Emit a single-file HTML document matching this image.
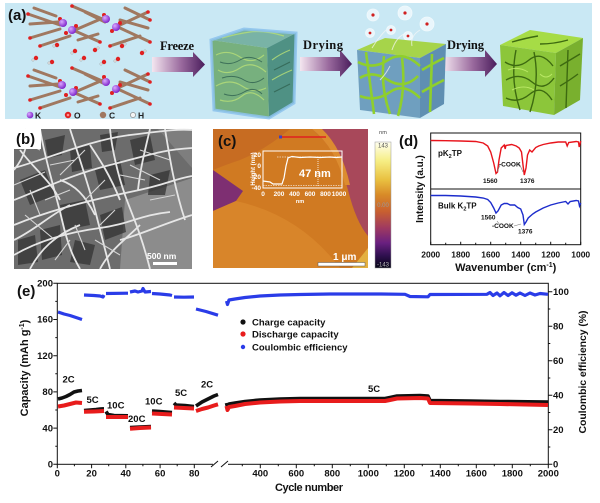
<!DOCTYPE html>
<html><head><meta charset="utf-8"><style>
html,body{margin:0;padding:0;background:#fff;}
svg{display:block;}
text{font-family:"Liberation Sans",Arial,sans-serif;font-weight:bold;}
</style></head><body>
<svg width="600" height="503" viewBox="0 0 600 503" xmlns="http://www.w3.org/2000/svg">
<defs>
<linearGradient id="arr" x1="0" x2="1" y1="0" y2="0">
<stop offset="0" stop-color="#f4e6f0"/><stop offset="0.55" stop-color="#9a6a9e"/><stop offset="1" stop-color="#4a1d5c"/>
</linearGradient>
<linearGradient id="cbar" x1="0" x2="0" y1="0" y2="1">
<stop offset="0" stop-color="#fffff0"/><stop offset="0.15" stop-color="#f6ee84"/><stop offset="0.3" stop-color="#e9c040"/><stop offset="0.42" stop-color="#d88a28"/><stop offset="0.55" stop-color="#c86030"/><stop offset="0.68" stop-color="#a03a60"/><stop offset="0.8" stop-color="#6a2080"/><stop offset="0.9" stop-color="#301050"/><stop offset="1" stop-color="#050515"/>
</linearGradient>
<radialGradient id="kball" cx="0.35" cy="0.35" r="0.7"><stop offset="0" stop-color="#d9a8ff"/><stop offset="1" stop-color="#7a1fc8"/></radialGradient>
</defs>

<!-- ===== Panel (a) ===== -->
<rect x="5" y="3" width="587" height="116" fill="#c9e8f4"/>
<text x="8" y="20" font-size="15" fill="#111">(a)</text>
<g stroke="#a07860" stroke-width="3" stroke-linecap="round" fill="none">
<path d="M28,14 L60,25 M30,38 L60,29 M75,30 L103,18 M75,31 L100,42 M72,6 L100,18 M120,25 L148,12 M120,28 L150,42 M40,46 L70,36 M110,46 L140,36 M85,12 L105,22 M125,8 L150,20 M30,24 L58,22 M120,20 L148,28 M34,8 L56,16 M78,40 L98,34"/>
<path d="M28,76 L60,87 M30,100 L60,91 M75,92 L103,80 M75,93 L100,104 M72,68 L100,80 M120,87 L148,74 M120,90 L150,104 M40,108 L70,98 M110,108 L140,98 M85,74 L105,84 M125,70 L150,82 M30,86 L58,84 M120,82 L148,90 M34,70 L56,78 M78,102 L98,96"/>
</g>
<g fill="#e02020">
<circle cx="28" cy="14" r="1.8"/><circle cx="30" cy="38" r="1.8"/><circle cx="100" cy="42" r="1.8"/><circle cx="72" cy="6" r="1.8"/><circle cx="148" cy="12" r="1.8"/><circle cx="150" cy="42" r="1.8"/><circle cx="40" cy="46" r="1.8"/><circle cx="110" cy="46" r="1.8"/><circle cx="150" cy="20" r="1.8"/>
<circle cx="28" cy="76" r="1.8"/><circle cx="30" cy="100" r="1.8"/><circle cx="100" cy="104" r="1.8"/><circle cx="72" cy="68" r="1.8"/><circle cx="148" cy="74" r="1.8"/><circle cx="150" cy="104" r="1.8"/><circle cx="40" cy="108" r="1.8"/><circle cx="110" cy="108" r="1.8"/><circle cx="150" cy="82" r="1.8"/>
<circle cx="60" cy="19" r="2"/><circle cx="76" cy="26" r="2"/><circle cx="66" cy="33" r="2"/><circle cx="104" cy="15" r="2"/><circle cx="120" cy="23" r="2"/><circle cx="112" cy="31" r="2"/>
<circle cx="60" cy="81" r="2"/><circle cx="76" cy="88" r="2"/><circle cx="66" cy="95" r="2"/><circle cx="104" cy="77" r="2"/><circle cx="120" cy="85" r="2"/><circle cx="112" cy="93" r="2"/>
</g>
<g fill="url(#kball)">
<circle cx="63" cy="23" r="4"/><circle cx="72" cy="30" r="4"/><circle cx="106" cy="19" r="4"/><circle cx="116" cy="27" r="4"/>
<circle cx="62" cy="85" r="4"/><circle cx="73" cy="92" r="4"/><circle cx="106" cy="82" r="4"/><circle cx="116" cy="89" r="4"/>
</g>
<g>
<g fill="#e02020"><circle cx="57" cy="45" r="2.2"/><circle cx="75" cy="51" r="2.2"/><circle cx="36" cy="58" r="2.2"/><circle cx="52" cy="62" r="2.2"/><circle cx="84" cy="58" r="2.2"/><circle cx="104" cy="62" r="2.2"/><circle cx="122" cy="46" r="2.2"/><circle cx="142" cy="53" r="2.2"/><circle cx="118" cy="59" r="2.2"/><circle cx="95" cy="50" r="2.2"/></g>
<g fill="#eeeeee" stroke="#888" stroke-width="0.4"><circle cx="54" cy="46" r="1.2"/><circle cx="72" cy="53" r="1.2"/><circle cx="33" cy="60" r="1.2"/><circle cx="49" cy="63" r="1.2"/><circle cx="81" cy="60" r="1.2"/><circle cx="101" cy="64" r="1.2"/><circle cx="125" cy="44" r="1.2"/><circle cx="145" cy="51" r="1.2"/><circle cx="115" cy="61" r="1.2"/><circle cx="98" cy="48" r="1.2"/></g>
</g>
<circle cx="30" cy="115" r="3.3" fill="url(#kball)"/><text x="35" y="118.5" font-size="8.5" fill="#222">K</text>
<circle cx="68" cy="115" r="3.2" fill="#e02020"/><circle cx="68" cy="115" r="1.3" fill="#ff9090"/><text x="74" y="118.5" font-size="8.5" fill="#222">O</text>
<circle cx="103" cy="115" r="3.2" fill="#a07860"/><text x="109" y="118.5" font-size="8.5" fill="#222">C</text>
<circle cx="133" cy="115" r="2.6" fill="#f4f4f4" stroke="#777" stroke-width="0.6"/><text x="138" y="118.5" font-size="8.5" fill="#222">H</text>

<path d="M152,57 L193,57 L193,52 L205,64.5 L193,77 L193,72 L152,72 Z" fill="url(#arr)"/>
<path d="M300,57 L340,57 L340,50 L352,64 L340,77 L340,71 L300,71 Z" fill="url(#arr)"/>
<path d="M443,57 L485,57 L485,50 L497,64 L485,77 L485,71 L443,71 Z" fill="url(#arr)"/>
<text x="160" y="50" font-size="12.5" fill="#111" style="font-family:'Liberation Serif',serif" textLength="34">Freeze</text>
<text x="303" y="49" font-size="12.5" fill="#111" style="font-family:'Liberation Serif',serif" textLength="40">Drying</text>
<text x="447" y="49" font-size="12.5" fill="#111" style="font-family:'Liberation Serif',serif" textLength="37">Drying</text>

<g>
<polygon points="211,40 244,29 296,33 267,48" fill="#79b3a6"/>
<polygon points="211,40 267,48 269,118 214,110" fill="#77b07e"/>
<polygon points="267,48 296,33 294,103 269,118" fill="#4f9184"/>
<g stroke="#b3dc78" stroke-width="1.2" fill="none" opacity="0.85">
<path d="M216,55 q12,-6 24,2 t24,-2 M218,70 q10,6 22,-2 t26,4 M216,86 q14,-8 26,0 t24,2 M220,100 q12,4 22,-4 t22,4 M272,60 q8,-6 18,-10 M272,80 q10,-6 20,-10 M222,38 q14,-4 28,-6 t34,4"/>
</g>
<g stroke="#2f6150" stroke-width="1" fill="none" opacity="0.8">
<path d="M220,62 q10,4 20,-2 t22,2 M222,78 q12,-4 22,2 t20,-2 M224,94 q10,4 20,-2 t18,2 M274,70 q8,-4 16,-8 M274,92 q8,-4 16,-8"/>
</g>
<polygon points="211,40 244,29 296,33 294,103 269,118 214,110" fill="none" stroke="#8cc2ec" stroke-width="3" opacity="0.85"/>
</g>
<g>
<g fill="#f4fbff" stroke="#ffffff" stroke-width="0.8" opacity="0.75">
<circle cx="373" cy="15" r="6"/><circle cx="405" cy="13" r="7"/><circle cx="427" cy="24" r="7"/><circle cx="370" cy="33" r="4.5"/><circle cx="391" cy="30" r="4.5"/><circle cx="408" cy="36" r="4.5"/>
</g>
<g fill="#d02020"><circle cx="373" cy="15" r="1.6"/><circle cx="405" cy="13" r="1.6"/><circle cx="427" cy="24" r="1.6"/><circle cx="370" cy="33" r="1.4"/><circle cx="391" cy="30" r="1.4"/><circle cx="408" cy="36" r="1.4"/></g>
<polygon points="357,50 385,38 446,44 420,58" fill="#a6d44a"/>
<polygon points="357,50 420,58 420,118 360,110" fill="#6f9fbf"/>
<polygon points="420,58 446,44 444,104 420,118" fill="#5f8fb2"/>
<g stroke="#8fcf2c" stroke-width="2.6" fill="none">
<path d="M358,62 q15,8 30,-2 t32,6 M360,78 q12,-8 28,2 t30,-4 M360,96 q16,6 30,-4 t30,6 M366,52 l8,62 M384,56 q-4,30 6,58 M402,58 q4,30 -4,58 M422,70 q10,-6 22,-12 M422,92 q10,-6 22,-12 M432,54 l-2,58"/>
</g>
<g stroke="#f6f6f6" stroke-width="1" fill="none" opacity="0.7"><path d="M372,48 q6,-10 14,-18 M392,50 q4,-12 12,-16 M412,46 q-2,-10 8,-16 M380,80 q6,-6 10,-14"/></g>
</g>
<g>
<polygon points="500,45 530,30 583,38 556,53" fill="#a6dc46"/>
<polygon points="500,45 556,53 554,115 503,106" fill="#8cc63a"/>
<polygon points="556,53 583,38 580,100 554,115" fill="#79b02e"/>
<g stroke="#3d6a10" stroke-width="1.4" fill="none">
<path d="M505,62 q12,8 24,-2 t24,6 M506,80 q14,-8 26,2 t22,-4 M506,98 q12,6 24,-4 t22,6 M516,50 q-6,30 4,60 M534,52 q6,30 -4,60 M560,66 q10,-6 20,-12 M560,86 q10,-6 18,-12 M568,50 l-2,58 M512,42 q14,-4 26,-6 M540,44 q14,0 28,-4"/>
</g>
<g stroke="#c6f070" stroke-width="1" fill="none" opacity="0.8"><path d="M508,70 q10,-4 20,2 M512,90 q12,-6 22,0 M540,74 q6,6 12,0"/></g>
</g>

<!-- ===== Panel (b) SEM ===== -->
<g>
<rect x="14" y="129" width="178" height="140" fill="#6c6c6c"/>
<polygon points="125,200 192,178 192,269 120,269" fill="#8c8c8c"/>
<polygon points="158,129 192,129 192,168" fill="#7e7e7e"/>
<g fill="#333" opacity="0.75">
<polygon points="20,180 45,170 55,195 30,205"/><polygon points="60,205 85,200 90,225 65,230"/><polygon points="95,170 120,160 125,185 100,190"/><polygon points="40,230 60,225 62,255 42,260"/><polygon points="100,215 122,207 126,232 105,240"/><polygon points="130,140 150,135 155,160 135,165"/><polygon points="70,150 90,145 92,168 72,172"/><polygon points="150,175 170,170 165,195 148,195"/><polygon points="18,240 35,235 38,262 18,265"/><polygon points="75,240 95,245 90,265 70,262"/><polygon points="45,140 65,135 62,155 48,158"/><polygon points="100,135 118,132 115,150 102,152"/>
</g>
<g stroke="#e6e6e6" stroke-width="1.8" fill="none">
<path d="M14,168 C50,158 90,140 130,135 S180,129 192,130"/>
<path d="M14,200 C40,190 70,175 110,165 S160,150 192,148"/>
<path d="M14,225 C50,210 90,200 130,192 S170,180 192,176"/>
<path d="M14,255 C40,240 70,232 100,228 S140,215 170,212"/>
<path d="M40,129 C45,160 55,190 62,220 S75,260 80,269"/>
<path d="M70,129 C80,160 90,190 95,210 S105,250 110,269"/>
<path d="M110,129 C112,150 118,175 125,195 S140,230 150,269"/>
<path d="M150,129 C145,150 140,170 138,190"/>
<path d="M20,150 C35,170 50,180 60,200"/>
<path d="M90,145 C100,160 110,175 120,200"/>
<path d="M30,269 C40,250 55,235 80,225"/>
<path d="M120,240 C140,235 160,225 192,215"/>
<path d="M60,180 C75,185 85,195 95,215"/>
<path d="M165,129 C170,160 175,190 185,220"/>
<path d="M14,240 C35,230 50,215 70,205"/>
<path d="M100,269 C110,250 125,240 140,225"/>
<path d="M25,129 C30,145 22,160 14,170"/>
</g>
<g stroke="#d4d4d4" stroke-width="1.1" fill="none">
<path d="M14,185 L45,172 M25,215 L55,240 M85,150 L60,175 M95,240 L120,255 M130,165 L160,180 M150,200 L175,195 M55,260 L70,240 M105,180 L85,200 M140,150 L170,160 M20,140 L40,150 M30,190 L40,215 M75,225 L85,250 M115,210 L100,225 M45,200 L70,190 M120,175 L145,180 M50,165 L75,160"/>
</g>
<rect x="14" y="129" width="27" height="20" fill="#fff"/>
<text x="16" y="144" font-size="15" fill="#111">(b)</text>
<text x="147" y="259" font-size="8.5" fill="#fff">500 nm</text>
<rect x="153" y="262" width="24" height="3" fill="#fff"/>
</g>

<!-- ===== Panel (c) AFM ===== -->
<g>
<rect x="213" y="129" width="155" height="139" fill="#d07a22"/>
<path d="M213,129 L290,129 Q265,150 240,160 Q225,165 213,170 Z" fill="#c76c22"/>
<polygon points="213,170 243,191 236,201 213,211" fill="#7e2f72"/>
<path d="M213,211 L236,201 Q300,215 340,268 L213,268 Z" fill="#d8852a"/>
<path d="M312,129 Q338,150 348,190 Q356,222 368,236 L368,129 Z" fill="#a8485a"/>
<path d="M312,129 Q336,148 345,185 L350,185 Q342,148 322,129 Z" fill="#dc8c30"/>
<polygon points="352,268 368,248 368,268" fill="#e4b040"/>
<text x="218" y="146" font-size="15" fill="#111">(c)</text>
<line x1="282" y1="137" x2="326" y2="137" stroke="#e02020" stroke-width="1.5"/>
<rect x="279" y="135.5" width="3" height="3" fill="#4040c0"/>
<rect x="263" y="151" width="79" height="37" fill="none" stroke="#fff" stroke-width="1"/>
<line x1="277" y1="157" x2="342" y2="157" stroke="#f0e0d0" stroke-width="0.7" stroke-dasharray="1.5,1"/>
<line x1="263" y1="185.5" x2="342" y2="185.5" stroke="#f0e0d0" stroke-width="0.7" stroke-dasharray="1.5,1"/>
<line x1="318" y1="157" x2="318" y2="186" stroke="#fff" stroke-width="0.8" stroke-dasharray="1,1"/>
<polyline points="263,181 270,182 273,184 282,184 284,178 286,166 288,158 292,156.5 300,157.5 310,157 320,157.5 330,157 336,157.5 342,157" fill="none" stroke="#fff" stroke-width="1.2"/>
<g fill="#fff" font-size="6.5">
<text x="261" y="157" text-anchor="end">20</text><text x="261" y="168" text-anchor="end">0</text><text x="261" y="179" text-anchor="end">-20</text><text x="261" y="190" text-anchor="end">-40</text>
<text x="263" y="196" text-anchor="middle">0</text><text x="279" y="196" text-anchor="middle">200</text><text x="294.5" y="196" text-anchor="middle">400</text><text x="310" y="196" text-anchor="middle">600</text><text x="325.5" y="196" text-anchor="middle">800</text><text x="339" y="196" text-anchor="middle">1000</text>
<text x="300" y="203" text-anchor="middle" font-size="5.5">nm</text>
<text transform="translate(255,169) rotate(-90)" text-anchor="middle" font-size="6">Height (nm)</text>
</g>
<text x="299" y="177" font-size="11" fill="#fff">47 nm</text>
<text x="333" y="260" font-size="10" fill="#fff">1 μm</text>
<rect x="318" y="262.5" width="47" height="3.5" fill="#fff" stroke="#555" stroke-width="0.5"/>
<rect x="375" y="142" width="16" height="126" fill="url(#cbar)" stroke="#999" stroke-width="0.5"/>
<text x="383" y="134" font-size="5.5" fill="#444" text-anchor="middle" style="font-weight:normal">nm</text>
<text x="383" y="147.5" font-size="6" fill="#555" text-anchor="middle" style="font-weight:normal">143</text>
<text x="383" y="207" font-size="6" fill="#999" text-anchor="middle" style="font-weight:normal">0.00</text>
<text x="383" y="266.5" font-size="6" fill="#bbb" text-anchor="middle" style="font-weight:normal">-143</text>
</g>

<!-- ===== Panel (d) FTIR ===== -->
<g>
<text x="399" y="146" font-size="15" fill="#111">(d)</text>
<rect x="430.7" y="133" width="150" height="111.7" fill="none" stroke="#111" stroke-width="1"/>
<line x1="430.7" y1="189" x2="580.7" y2="189" stroke="#111" stroke-width="1"/>
<polyline fill="none" stroke="#e8141c" stroke-width="1.4" points="430.7,140.5 445.7,140.7 460.7,141 475.7,141.5 483.2,143 487.7,146 490.7,152 493.7,163 496,173.5 497.5,172 499,160 501.2,148 504.2,145 505.2,149 505.9,145.5 511.7,144.5 516.2,146 519.2,148 521.5,152 523,165 524.3,175 526,168 527.5,155 529.7,150 532,152 535.7,147.5 538.7,146 543.2,144.5 550.7,143 558.2,142 565.7,142 567.2,146 568.7,142.5 576.2,141.5 578.5,142 579.2,147 580,144 580.7,141"/>
<polyline fill="none" stroke="#1c2ccc" stroke-width="1.4" points="430.7,195.5 445.7,195.5 460.7,196 475.7,197 483.2,198 487.7,199.5 490.7,202.5 493.7,208 496,213 498,211 501.2,205 504.2,203.5 507.2,203.5 510.2,205 514.7,205 517.7,207.5 520.7,209 523,215 524.3,224.5 526,222 528.2,218 532.7,214 535.7,212 543.2,208 550.7,205 558.2,203 565.7,201.5 568,204 570.2,201.5 576.2,200.5 578.5,201 579.5,206 580.7,203"/>
<g stroke="#111" stroke-width="1">
<path d="M430.7,244.7v-3 M445.7,244.7v-2 M460.7,244.7v-3 M475.7,244.7v-2 M490.7,244.7v-3 M505.7,244.7v-2 M520.7,244.7v-3 M535.7,244.7v-2 M550.7,244.7v-3 M565.7,244.7v-2 M580.7,244.7v-3"/>
</g>
<g font-size="8.5" fill="#111" text-anchor="middle">
<text x="430.7" y="257.5">2000</text><text x="460.7" y="257.5">1800</text><text x="490.7" y="257.5">1600</text><text x="520.7" y="257.5">1400</text><text x="550.7" y="257.5">1200</text><text x="580.7" y="257.5">1000</text>
</g>
<text x="505.7" y="271" font-size="11" fill="#111" text-anchor="middle">Wavenumber (cm<tspan dy="-4" font-size="7">-1</tspan><tspan dy="4">)</tspan></text>
<text transform="translate(423,189) rotate(-90)" font-size="10" fill="#111" text-anchor="middle">Intensity (a.u.)</text>
<text x="438" y="156" font-size="8" fill="#111">pK<tspan dy="2" font-size="5.5">2</tspan><tspan dy="-2">TP</tspan></text>
<text x="438" y="208.5" font-size="8" fill="#111">Bulk K<tspan dy="2" font-size="5.5">2</tspan><tspan dy="-2">TP</tspan></text>
<g font-size="6.5" fill="#111">
<text x="499" y="166.5">-COOK</text>
<text x="483" y="183">1560</text><text x="520" y="183">1376</text>
<text x="481" y="219.5">1560</text><text x="492" y="228">-COOK</text><text x="518" y="233.5">1376</text>
</g>
<g stroke="#777" stroke-width="0.6" fill="none">
<path d="M500,165 L497,172 M519,163 L523,172 M497,221 L500,225 M514,226 L521,224"/>
</g>
</g>

<!-- ===== Panel (e) ===== -->
<g>
<text x="17" y="296" font-size="15" fill="#111">(e)</text>
<rect x="57.3" y="283.3" width="491" height="181" fill="none" stroke="#111" stroke-width="1"/>
<g stroke="#111" stroke-width="1">
<path d="M57.3,464.3h-4 M57.3,428.1h-4 M57.3,391.9h-4 M57.3,355.7h-4 M57.3,319.5h-4 M57.3,283.3h-4 M57.3,446.2h-2 M57.3,410h-2 M57.3,373.8h-2 M57.3,337.6h-2 M57.3,301.4h-2"/>
<path d="M548.3,464.3h4 M548.3,429.8h4 M548.3,395.3h4 M548.3,360.7h4 M548.3,326.2h4 M548.3,291.7h4 M548.3,447h2 M548.3,412.5h2 M548.3,378h2 M548.3,343.5h2 M548.3,309h2"/>
<path d="M57.3,464.3v4 M91.6,464.3v4 M125.8,464.3v4 M160.1,464.3v4 M194.3,464.3v4 M74.4,464.3v2 M108.7,464.3v2 M142.9,464.3v2 M177.2,464.3v2"/>
<path d="M260.3,464.3v4 M296.3,464.3v4 M332.3,464.3v4 M368.3,464.3v4 M404.3,464.3v4 M440.3,464.3v4 M476.3,464.3v4 M512.3,464.3v4 M548.3,464.3v4 M242.3,464.3v2 M278.3,464.3v2 M314.3,464.3v2 M350.3,464.3v2 M386.3,464.3v2 M422.3,464.3v2 M458.3,464.3v2 M494.3,464.3v2 M530.3,464.3v2"/>
</g>
<rect x="213" y="462" width="15" height="5" fill="#fff"/>
<path d="M211,467 L218,461 M221,467 L228,461" stroke="#111" stroke-width="1"/>
<g font-size="9.5" fill="#111" text-anchor="end">
<text x="53" y="467.5">0</text><text x="53" y="431.3">40</text><text x="53" y="395.1">80</text><text x="53" y="358.9">120</text><text x="53" y="322.7">160</text><text x="53" y="286.5">200</text>
</g>
<g font-size="9.5" fill="#111">
<text x="553" y="467.5">0</text><text x="553" y="433">20</text><text x="553" y="398.5">40</text><text x="553" y="363.9">60</text><text x="553" y="329.4">80</text><text x="553" y="294.9">100</text>
</g>
<g font-size="9.5" fill="#111" text-anchor="middle">
<text x="57.3" y="476.5">0</text><text x="91.6" y="476.5">20</text><text x="125.8" y="476.5">40</text><text x="160.1" y="476.5">60</text><text x="194.3" y="476.5">80</text>
<text x="260.3" y="476.5">400</text><text x="296.3" y="476.5">600</text><text x="332.3" y="476.5">800</text><text x="368.3" y="476.5">1000</text><text x="404.3" y="476.5">1200</text><text x="440.3" y="476.5">1400</text><text x="476.3" y="476.5">1600</text><text x="512.3" y="476.5">1800</text><text x="548.3" y="476.5">2000</text>
</g>
<text x="309" y="491" font-size="11" fill="#111" text-anchor="middle" textLength="68">Cycle number</text>
<text transform="translate(28,368) rotate(-90)" font-size="11" fill="#111" text-anchor="middle">Capacity (mAh g<tspan dy="-4" font-size="7">-1</tspan><tspan dy="4">)</tspan></text>
<text transform="translate(586,372) rotate(-90)" font-size="10.5" fill="#111" text-anchor="middle" textLength="123">Coulombic efficiency (%)</text>

<g fill="none" stroke="#2a3ce8" stroke-width="3.2" stroke-linejoin="round">
<polyline points="58,312 64,314 70,315.5 76,317.5 82,319.5"/>
<polyline points="84,295 94,295.5 100,296 103,297 104,295"/>
<polyline points="106,293.5 128,293.2"/>
<polyline points="130,292 135,291 138,292 142,291 143,288.5 145,292 151,291.5"/>
<polyline points="152,293.5 160,294 170,295 172,295.5"/>
<polyline points="174,297 184,297.2 194,297"/>
<polyline points="196,309 206,311.5 218,315.2"/>
<polyline points="226.5,301 227.5,304.5 229,300 235,299 245,297.5 260,296 280,295 300,294.5 330,294 380,294 405,294.3 410,296.5 428,296.8 430,294.5 487,294.3 490,292.5 493,295.5 497,293 500,295.8 504,292.5 508,295.5 512,292.8 516,295.2 520,293 525,295.5 530,293 535,295 540,293.5 548,294.3"/>
</g>
<g fill="none" stroke="#111" stroke-width="3.6" stroke-linejoin="round">
<polyline points="58,399 62,398 66,396.5 70,394.5 74,392 78,391 82,390.5"/>
<polyline points="84,410.5 90,410 96,409.5 100,409 104,408.8"/>
<polyline points="106,411.5 108,414.5 114,415.5 128,415.8"/>
<polyline points="130,427.5 140,427 151,426.5"/>
<polyline points="152,411 160,411.5 172,412.5"/>
<polyline points="174,403 176,405 185,405.5 194,406.5"/>
<polyline points="196,406 202,402 208,399 214,396 218,394.5"/>
<polyline points="226.5,403 227.5,407 229,404 235,403 245,401.5 260,400 280,399 300,398.5 385,398.5 390,397.5 397,396 420,395.5 428,396 430,400.5 470,401 500,401.5 548,402"/>
</g>
<g fill="none" stroke="#e81c1c" stroke-width="4" stroke-linejoin="round">
<polyline points="58,406.5 64,405.5 70,404 76,402.5 82,403"/>
<polyline points="84,411.8 94,411.5 104,411"/>
<polyline points="106,417 128,417"/>
<polyline points="130,428.8 140,428 151,427.5"/>
<polyline points="152,413.5 162,414 172,414.5"/>
<polyline points="174,407.5 184,408 194,408.5"/>
<polyline points="196,411 202,409 208,407.5 214,405.5 218,404.3"/>
<polyline points="226.5,406 227.5,410 229,407 235,406 245,404 260,402.5 280,401.5 300,401 385,401 390,400 397,398.5 420,398 428,398.5 430,403 470,403.5 500,404 548,405"/>
</g>
<g font-size="9.5" fill="#111">
<text x="62.5" y="382.5">2C</text><text x="86.5" y="403">5C</text><text x="107" y="408.5">10C</text><text x="128" y="422">20C</text><text x="145" y="404.5">10C</text><text x="175" y="396">5C</text><text x="201" y="387.5">2C</text><text x="368" y="392">5C</text>
</g>
<circle cx="243" cy="322" r="2.6" fill="#111"/>
<circle cx="243" cy="334" r="2.6" fill="#e81c1c"/>
<circle cx="243" cy="347" r="2.2" fill="#2a3ce8"/>
<g font-size="9.5" fill="#111">
<text x="252" y="325.5">Charge capacity</text>
<text x="252" y="337.5">Discharge capacity</text>
<text x="252" y="350.5">Coulombic efficiency</text>
</g>
</g>
</svg>
</body></html>
